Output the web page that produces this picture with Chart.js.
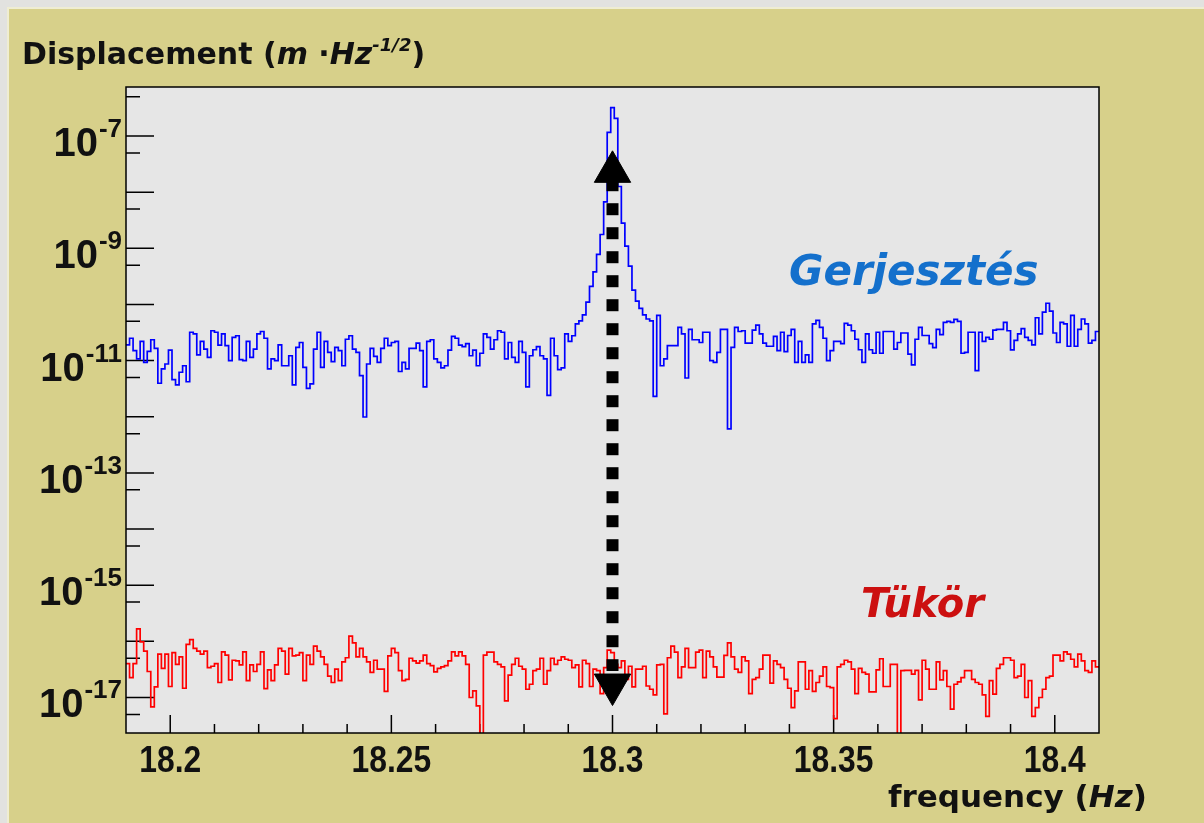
<!DOCTYPE html>
<html>
<head>
<meta charset="utf-8">
<title>Displacement spectrum</title>
<script src="https://cdn.jsdelivr.net/npm/chart.js@4.4.1/dist/chart.umd.min.js"></script>
<style>
  html, body { margin:0; padding:0; background:#e2e2df; }
  #stage { position:relative; width:1204px; height:823px; overflow:hidden; }
  #chart { position:absolute; left:0; top:0; }
  .txt { position:absolute; white-space:nowrap; line-height:1; font-family:"DejaVu Sans","Noto Sans",sans-serif; font-weight:bold; }
</style>
</head>
<body>
<div id="stage">
  <canvas id="chart" width="1204" height="823"></canvas>
  <div class="txt" id="yTitle" style="left:22px; top:39px; font-size:30px; color:#111;">Displacement&nbsp;(<i>m</i>&nbsp;·<i>Hz</i><span style="font-size:18px; position:relative; top:-13px; font-style:italic;">-1/2</span>)</div>
  <div class="txt" style="left:789px; top:250px; font-size:42px; font-style:italic; color:#1470cc;">Gerjesztés</div>
  <div class="txt" style="left:861px; top:583px; font-size:40px; font-style:italic; color:#cc1010;">Tükör</div>
  <div class="txt" id="xTitle" style="left:888px; top:781px; font-size:31px; color:#111;">frequency&nbsp;(<i>Hz</i>)</div>
</div>
<script>
// ---- data (bin width 0.0008 Hz, starting at 18.19 Hz) ----
const binStartHz = 18.19;
const binWidthHz = 0.0008;

const gerjesztes = [
1.9e-11,2.5e-11,1.5e-11,1.07e-11,2.2e-11,9.3e-12,1.46e-11,2.35e-11,1.65e-11,3.95e-12,
7.1e-12,8.7e-12,1.54e-11,4.6e-12,3.7e-12,6.2e-12,8.1e-12,4.2e-12,3.2e-11,3.0e-11,
1.26e-11,2.2e-11,1.6e-11,1.14e-11,3.4e-11,3.2e-11,1.89e-11,3.0e-11,1.84e-11,1.0e-11,
2.6e-11,2.77e-11,1.04e-11,1.0e-11,2.2e-11,1.14e-11,1.6e-11,3.0e-11,3.3e-11,2.5e-11,
7.1e-12,1.07e-11,1.0e-11,1.9e-11,8.1e-12,8.1e-12,1.22e-11,3.7e-12,1.72e-11,2.1e-11,
7.6e-12,3.2e-12,3.85e-12,1.6e-11,3.2e-11,7.6e-12,2.2e-11,1.4e-11,9.6e-12,1.72e-11,
1.5e-11,8.1e-12,2.4e-11,2.77e-11,1.6e-11,1.4e-11,5.4e-12,9.9e-13,
8.7e-12,1.65e-11,1.19e-11,9.3e-12,1.65e-11,2.5e-11,1.84e-11,2.1e-11,2.2e-11,6.4e-12,
9.3e-12,7.1e-12,1.65e-11,1.65e-11,2.05e-11,1.5e-11,3.4e-12,2.2e-11,2.35e-11,1.07e-11,
9.3e-12,7.4e-12,8.1e-12,1.54e-11,2.7e-11,2.5e-11,1.89e-11,1.77e-11,2.0e-11,1.22e-11,
1.54e-11,8.1e-12,1.35e-11,3.0e-11,2.6e-11,1.6e-11,2.35e-11,3.4e-11,3.2e-11,1.07e-11,
2.1e-11,1.14e-11,9.3e-12,2.2e-11,1.4e-11,3.4e-12,1.22e-11,1.56e-11,1.77e-11,1.22e-11,
1.07e-11,2.4e-12,2.5e-11,1.22e-11,6.9e-12,7.4e-12,3.0e-11,2.2e-11,2.77e-11,4.5e-11,
5.1e-11,6.5e-11,1.1e-10,
2.1e-10,3.8e-10,7.8e-10,1.76e-9,6.7e-9,1.16e-7,3.2e-7,2.06e-7,1.26e-8,2.8e-9,
1.09e-9,4.8e-10,1.8e-10,1.15e-10,8.5e-11,6.5e-11,5.5e-11,5.1e-11,
2.3e-12,6.4e-11,8.1e-12,1.07e-11,1.84e-11,1.84e-11,1.84e-11,3.9e-11,3.0e-11,4.9e-12,
3.6e-11,2.35e-11,2.35e-11,2.1e-11,3.2e-11,3.2e-11,1.0e-11,9.3e-12,1.4e-11,3.6e-11,
3.6e-11,6.1e-13,1.72e-11,3.9e-11,3.3e-11,3.4e-11,2.05e-11,2.05e-11,3.5e-11,4.3e-11,
3.0e-11,2.05e-11,1.8e-11,1.8e-11,2.7e-11,1.5e-11,3.2e-11,1.44e-11,2.8e-11,3.6e-11,
9.3e-12,2.2e-11,9.3e-12,1.26e-11,9.3e-12,4.5e-11,5.2e-11,3.9e-11,2.5e-11,1.0e-11,
1.5e-11,2.2e-11,2.2e-11,2.0e-11,4.6e-11,4.3e-11,3.4e-11,2.4e-11,1.56e-11,9.3e-12,
3.0e-11,1.56e-11,
1.35e-11,3.2e-11,1.35e-11,3.3e-11,3.3e-11,3.3e-11,1.6e-11,2.1e-11,3.1e-11,3.1e-11,
1.3e-11,8.4e-12,2.4e-11,3.9e-11,2.8e-11,2.8e-11,2.0e-11,1.7e-11,3.6e-11,2.9e-11,
4.8e-11,5.0e-11,4.8e-11,5.4e-11,5.0e-11,1.35e-11,1.4e-11,3.2e-11,3.2e-11,6.6e-12,
3.2e-11,2.2e-11,2.6e-11,2.4e-11,3.5e-11,3.6e-11,3.6e-11,4.8e-11,3.4e-11,1.55e-11,
2.3e-11,3.0e-11,3.7e-11,2.6e-11,2.3e-11,1.9e-11,5.8e-11,3.0e-11,7.3e-11,1.05e-10,
7.6e-11,3.1e-11,2.1e-11,4.8e-11,4.5e-11,1.8e-11,6.4e-11,1.8e-11,3.6e-11,5.5e-11,
4.5e-11,2.05e-11,2.3e-11,3.3e-11
];

const tukor = [
4.0e-17,2.26e-17,4.0e-17,1.67e-16,9.8e-17,6.7e-17,2.9e-17,6.8e-18,1.55e-17,5.9e-17,
3.3e-17,5.9e-17,1.57e-17,6.3e-17,3.9e-17,5.3e-17,1.46e-17,8.8e-17,1.07e-16,7.5e-17,
6.7e-17,5.9e-17,6.7e-17,3.4e-17,3.6e-17,4.0e-17,1.85e-17,6.5e-17,5.7e-17,2.06e-17,
4.6e-17,4.5e-17,3.8e-17,6.5e-17,2.0e-17,3.8e-17,2.9e-17,3.9e-17,6.5e-17,1.44e-17,
3.1e-17,2.0e-17,3.8e-17,7.5e-17,6.7e-17,2.6e-17,7.5e-17,5.5e-17,5.7e-17,6.3e-17,
2.0e-17,5.7e-17,3.9e-17,8.2e-17,6.7e-17,5.3e-17,3.9e-17,2.4e-17,1.85e-17,3.2e-17,
2.0e-17,4.3e-17,5.1e-17,1.24e-16,9.4e-17,5.3e-17,7.5e-17,5.3e-17,4.3e-17,
2.8e-17,4.6e-17,3.2e-17,3.2e-17,1.28e-17,5.5e-17,7.5e-17,6.3e-17,3.0e-17,2.0e-17,
2.1e-17,5.0e-17,4.5e-17,4.1e-17,4.5e-17,5.7e-17,4.0e-17,3.7e-17,2.85e-17,3.3e-17,
3.5e-17,3.7e-17,4.5e-17,6.5e-17,5.5e-17,6.5e-17,5.5e-17,3.9e-17,1.0e-17,1.31e-17,
7.1e-18,1e-18,5.7e-17,6.4e-17,6.4e-17,4.3e-17,3.9e-17,3.5e-17,8.7e-18,2.5e-17,
3.9e-17,5.0e-17,3.6e-17,3.2e-17,1.4e-17,1.72e-17,3.0e-17,3.2e-17,5.0e-17,1.72e-17,
3.0e-17,5.0e-17,3.9e-17,4.6e-17,5.3e-17,4.8e-17,4.6e-17,3.4e-17,3.8e-17,1.55e-17,
4.6e-17,4.0e-17,1.57e-17,3.2e-17,3.0e-17,1.17e-17,3.4e-17,7.0e-17,
6.3e-17,3.9e-17,3.4e-17,4.5e-17,2.1e-17,3.6e-17,1.55e-17,3.2e-17,3.2e-17,3.6e-17,
1.6e-17,1.4e-17,1.11e-17,3.8e-17,3.9e-17,5.1e-18,5.1e-17,8.2e-17,6.4e-17,2.26e-17,
3.5e-17,7.5e-17,3.4e-17,3.4e-17,6.4e-17,7.0e-17,2.26e-17,6.7e-17,5.3e-17,3.5e-17,
2.3e-17,2.3e-17,5.6e-17,9.4e-17,5.3e-17,3.2e-17,2.8e-17,5.3e-17,4.5e-17,1.17e-17,
2.1e-17,2.26e-17,3.2e-17,5.7e-17,5.7e-17,1.8e-17,4.5e-17,3.9e-17,3.4e-17,2.1e-17,
1.46e-17,6.6e-18,1.31e-17,4.3e-17,4.3e-17,1.4e-17,3.0e-17,1.28e-17,1.85e-17,2.4e-17,
3.5e-17,1.57e-17,1.5e-17,4.2e-18,3.5e-17,3.9e-17,4.6e-17,4.3e-17,
3.2e-17,1.17e-17,3.3e-17,2.8e-17,2.6e-17,1.26e-17,1.26e-17,3.1e-17,4.9e-17,1.57e-17,
1.57e-17,3.9e-17,3.9e-17,1e-18,3.0e-17,3.05e-17,3.05e-17,2.6e-17,3.05e-17,9.1e-18,
4.6e-17,3.2e-17,1.4e-17,1.4e-17,4.3e-17,2.06e-17,3.0e-17,1.57e-17,6.2e-18,1.72e-17,
1.9e-17,2.26e-17,3.0e-17,3.0e-17,2.1e-17,1.85e-17,1.72e-17,1.11e-17,4.6e-18,2.0e-17,
1.15e-17,3.3e-17,3.9e-17,5.1e-17,5.1e-17,4.6e-17,2.26e-17,2.4e-17,3.9e-17,1.0e-17,
2.0e-17,4.6e-18,6.6e-18,1.0e-17,1.4e-17,2.26e-17,2.4e-17,5.7e-17,5.7e-17,4.5e-17,
6.5e-17,5.9e-17,4.8e-17,3.5e-17,5.9e-17,4.5e-17,3.0e-17,2.8e-17,4.5e-17,3.5e-17
];

// double-headed dotted arrow at the resonance frequency
const arrowFreq = 18.3;
const arrowShaft = [1.7e-8, 2.96e-17];
const arrowHeads = [2.3e-8, 1.7e-17];

// tick labels
const xTickLabels = ['18.2', '18.25', '18.3', '18.35', '18.4'];
const yTickExponents = [-7, -9, -11, -13, -15, -17];

function histogramSteps(values) {
  const pts = values.map((v, i) => ({ x: binStartHz + i * binWidthHz, y: v }));
  pts.push({ x: binStartHz + values.length * binWidthHz, y: values[values.length - 1] });
  return pts;
}

const rootAxes = {
  id: 'rootAxes',
  beforeDraw(chart) {
    const { ctx, chartArea: a, width: W, height: H } = chart;
    ctx.save();
    ctx.fillStyle = '#e2e2df'; ctx.fillRect(0, 0, W, H);
    ctx.fillStyle = '#efedd2'; ctx.fillRect(7, 7, W - 7, H - 7);
    ctx.fillStyle = '#d7d08a'; ctx.fillRect(9, 9, W - 9, H - 9);
    ctx.fillStyle = '#e6e6e6'; ctx.fillRect(a.left, a.top, a.right - a.left, a.bottom - a.top);
    ctx.restore();
  },
  beforeDatasetsDraw(chart) {
    const { ctx, chartArea: a } = chart;
    const xs = chart.scales.x, ys = chart.scales.y;
    ctx.save();
    ctx.strokeStyle = '#000';
    ctx.lineWidth = 1.5;
    ctx.beginPath();
    for (let k = 1; k < 22; k++) {
      const px = xs.getPixelForValue(18.19 + k * 0.01);
      const len = (k % 5 === 1) ? 18 : 9;
      ctx.moveTo(px, a.bottom); ctx.lineTo(px, a.bottom - len);
    }
    for (let n = -6; n >= -18; n--) {
      for (const m of [1, 5]) {
        const v = m * Math.pow(10, n);
        if (v < ys.min || v > ys.max) continue;
        const py = ys.getPixelForValue(v);
        ctx.moveTo(a.left, py); ctx.lineTo(a.left + (m === 1 ? 28 : 14), py);
      }
    }
    ctx.stroke();
    ctx.restore();
  },
  afterDatasetsDraw(chart) {
    const { ctx, chartArea: a } = chart;
    const xs = chart.scales.x, ys = chart.scales.y;
    ctx.save();
    ctx.strokeStyle = '#000';
    ctx.lineWidth = 1.5;
    ctx.strokeRect(a.left, a.top, a.right - a.left, a.bottom - a.top);
    ctx.fillStyle = '#111';
    // x labels
    ctx.font = 'bold 37px "Liberation Sans", Arial, sans-serif';
    ctx.textAlign = 'center';
    ctx.textBaseline = 'alphabetic';
    for (const lab of xTickLabels) {
      const px = xs.getPixelForValue(parseFloat(lab));
      ctx.save();
      ctx.translate(px, 772);
      ctx.scale(0.86, 1);
      ctx.fillText(lab, 0, 0);
      ctx.restore();
    }
    // y labels 10^n
    ctx.textAlign = 'left';
    const baseFont = 'bold 40px "Liberation Sans", Arial, sans-serif';
    const supFont = 'bold 26px "Liberation Sans", Arial, sans-serif';
    for (const e of yTickExponents) {
      const py = ys.getPixelForValue(Math.pow(10, e));
      const sup = '-' + Math.abs(e);
      ctx.font = supFont; const wSup = ctx.measureText(sup).width;
      ctx.font = baseFont; const wBase = ctx.measureText('10').width;
      const right = a.left - 4;
      ctx.font = baseFont; ctx.fillText('10', right - wSup - wBase - 1, py + 20);
      ctx.font = supFont; ctx.fillText(sup, right - wSup, py + 1);
    }
    ctx.restore();
  }
};

new Chart(document.getElementById('chart'), {
  type: 'line',
  data: {
    datasets: [
      { label: 'arrowheads', data: arrowHeads.map(v => ({ x: arrowFreq, y: v })), showLine: false,
        pointStyle: 'triangle', pointRadius: 21, pointRotation: [0, 180],
        pointBackgroundColor: '#000', pointBorderColor: '#000', pointBorderWidth: 1, order: 0 },
      { label: 'arrow', data: arrowShaft.map(v => ({ x: arrowFreq, y: v })), borderColor: '#000',
        borderWidth: 12, borderDash: [12, 12], borderCapStyle: 'butt', pointRadius: 0, order: 1 },
      { label: 'Tükör', data: histogramSteps(tukor), stepped: true, borderColor: '#ff0000',
        borderWidth: 1.7, pointRadius: 0, order: 2 },
      { label: 'Gerjesztés', data: histogramSteps(gerjesztes), stepped: true, borderColor: '#0000ff',
        borderWidth: 1.7, pointRadius: 0, order: 3 }
    ]
  },
  options: {
    responsive: false,
    animation: false,
    events: [],
    layout: { padding: { left: 126, right: 105, top: 87, bottom: 90 } },
    scales: {
      x: { type: 'linear', min: 18.19, max: 18.41, display: false },
      y: { type: 'logarithmic', min: 2.33e-18, max: 7.46e-7, display: false }
    },
    plugins: { legend: { display: false }, tooltip: { enabled: false } }
  },
  plugins: [rootAxes]
});
</script>
</body>
</html>
